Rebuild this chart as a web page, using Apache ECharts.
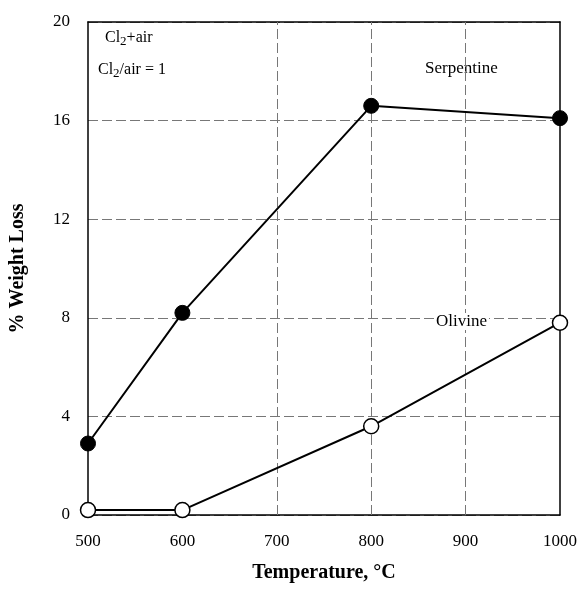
<!DOCTYPE html>
<html>
<head>
<meta charset="utf-8">
<script src="https://cdn.jsdelivr.net/npm/echarts@6/dist/echarts.min.js"></script>
<style>
  html, body { margin: 0; padding: 0; background: #fff; }
  #chart { width: 581px; height: 594px; }
</style>
</head>
<body>
<div id="chart"></div>
<script>
// temperature (°C) and % weight loss
const temps = [500, 600, 800, 1000]
const serpentine = [2.9, 8.2, 16.6, 16.1]
const olivine = [0.2, 0.2, 3.6, 7.8]
// vertical guide lines that show in the original
const guideTemps = [700, 800, 900]

const font = 'Liberation Serif'

const chart = echarts.init(document.getElementById('chart'))

const frameAxis = {
  type: 'value',
  axisLine: { show: true, onZero: false, lineStyle: { color: '#000', width: 1.5 } },
  axisTick: { show: false },
  axisLabel: { show: false },
  splitLine: { show: false }
}

chart.setOption({
  animation: false,
  grid: {
    left: 88,
    right: 21,
    top: 22,
    bottom: 79
  },
  xAxis: [
    {
      type: 'value',
      min: 500,
      max: 1000,
      interval: 100,
      name: 'Temperature, °C',
      nameLocation: 'middle',
      nameGap: 48,
      nameTextStyle: { fontFamily: font, fontSize: 20, fontWeight: 'bold', color: '#000' },
      axisLine: { show: true, onZero: false, lineStyle: { color: '#000', width: 1.5 } },
      axisTick: { show: false },
      axisLabel: { fontFamily: font, fontSize: 17, color: '#000', margin: 18, formatter: v => String(v) },
      splitLine: { show: false }
    },
    Object.assign({ position: 'top', min: 500, max: 1000 }, frameAxis)
  ],
  yAxis: [
    {
      type: 'value',
      min: 0,
      max: 20,
      interval: 4,
      name: '% Weight Loss',
      nameLocation: 'middle',
      nameGap: 60,
      nameTextStyle: { fontFamily: font, fontSize: 20, fontWeight: 'bold', color: '#000' },
      axisLine: { show: true, onZero: false, lineStyle: { color: '#000', width: 1.5 } },
      axisTick: { show: false },
      axisLabel: { fontFamily: font, fontSize: 17, color: '#000', margin: 18 },
      splitLine: { show: true, lineStyle: { color: '#777', type: [10, 4], width: 1 } }
    },
    Object.assign({ position: 'right', min: 0, max: 20 }, frameAxis)
  ],
  graphic: [
    {
      type: 'text',
      left: 105,
      top: 30,
      style: {
        text: 'Cl{sub|2}+air',
        font: '16px "Liberation Serif"',
        fill: '#000',
        rich: { sub: { fontFamily: font, fontSize: 13, padding: [8, 0, 0, 0] } }
      }
    },
    {
      type: 'text',
      left: 98,
      top: 62,
      style: {
        text: 'Cl{sub|2}/air = 1',
        font: '16px "Liberation Serif"',
        fill: '#000',
        rich: { sub: { fontFamily: font, fontSize: 13, padding: [8, 0, 0, 0] } }
      }
    },
    {
      type: 'text',
      left: 425,
      top: 60,
      style: { text: 'Serpentine', font: '17px "Liberation Serif"', fill: '#000' }
    },
    {
      type: 'text',
      left: 434,
      top: 313,
      z: 10,
      style: {
        text: 'Olivine',
        font: '17px "Liberation Serif"',
        fill: '#000',
        backgroundColor: '#fff',
        padding: [0, 2]
      }
    }
  ],
  series: [
    {
      name: 'guides',
      type: 'line',
      data: [],
      z: 1,
      markLine: {
        silent: true,
        symbol: 'none',
        label: { show: false },
        lineStyle: { color: '#777', type: [10, 4], width: 1 },
        data: guideTemps.map(t => ({ xAxis: t }))
      }
    },
    {
      name: 'Serpentine',
      type: 'line',
      zlevel: 1,
      data: temps.map((t, i) => [t, serpentine[i]]),
      symbol: 'circle',
      symbolSize: 15,
      lineStyle: { color: '#000', width: 2 },
      itemStyle: { color: '#000', borderColor: '#000', borderWidth: 1 },
      z: 3
    },
    {
      name: 'Olivine',
      type: 'line',
      zlevel: 1,
      data: temps.map((t, i) => [t, olivine[i]]),
      symbol: 'circle',
      symbolSize: 15,
      lineStyle: { color: '#000', width: 2 },
      itemStyle: { color: '#fff', borderColor: '#000', borderWidth: 1.5 },
      z: 4
    }
  ]
})
</script>
</body>
</html>
